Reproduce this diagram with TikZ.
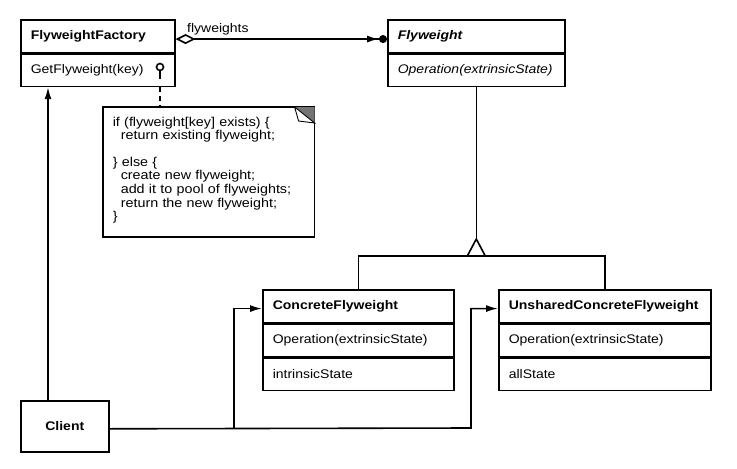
\documentclass[tikz,border=0pt]{standalone}
\usepackage{fontspec}
\setmainfont{Liberation Sans}[FakeStretch=1.12]
\usetikzlibrary{arrows.meta}
\usetikzlibrary{positioning}

\tikzset{
  box/.style={draw, line width=1.6pt, anchor=north west, inner xsep=10pt, inner ysep=0pt,
    minimum height=32.5pt, align=left, text width=#1, font=\fontsize{12.5}{15}\selectfont},
  head/.style={box=#1, font=\fontsize{12.5}{15}\selectfont\bfseries},
  assoc/.style={line width=1.6pt, -{Latex[length=12pt,width=7pt]}},
}

\begin{document}
\begin{tikzpicture}[x=1pt, y=-1pt, line width=1.6pt]
  \useasboundingbox (0,0) rectangle (737,469);

  % classes
  \node[head=134] (fact) at (20,19) {FlyweightFactory};
  \node[box=134, below=0pt of fact.south west, anchor=north west] (factop) {GetFlyweight(key)};

  \node[head=157] (fw) at (387,19) {\itshape Flyweight};
  \node[box=157, below=0pt of fw.south west, anchor=north west] (fwop) {\itshape Operation(extrinsicState)};

  \node[head=171] (cf) at (262,289) {ConcreteFlyweight};
  \node[box=171, below=0pt of cf.south west, anchor=north west] (cfop) {Operation(extrinsicState)};
  \node[box=171, below=0pt of cfop.south west, anchor=north west] (cfst) {intrinsicState};

  \node[head=192] (ucf) at (498,289) {UnsharedConcreteFlyweight};
  \node[box=192, below=0pt of ucf.south west, anchor=north west] (ucfop) {Operation(extrinsicState)};
  \node[box=192, below=0pt of ucfop.south west, anchor=north west] (ucfst) {allState};

  \node[draw, anchor=north west, minimum width=88pt, minimum height=51pt,
        font=\fontsize{12.5}{15}\selectfont\bfseries] (client) at (20,400) {Client};

  % note
  \node[anchor=north west, inner xsep=9pt, inner ysep=9pt,
        text width=192pt, align=left, font=\fontsize{12.8}{13.6}\selectfont] (note) at (103,107)
    {if (flyweight[key] exists) \{\\
     \hspace*{8pt}return existing flyweight;\\[13pt]
     \} else \{\\
     \hspace*{8pt}create new flyweight;\\
     \hspace*{8pt}add it to pool of flyweights;\\
     \hspace*{8pt}return the new flyweight;\\
     \}};
  \coordinate (notese) at ([yshift=-130pt]note.north east);
  \draw (note.north west) rectangle (notese);
  \fill[black!55] ([xshift=-20pt]note.north east) -- (note.north east) -- ([yshift=-16pt]note.north east) -- cycle;
  \draw[fill=white, line width=0.9pt] ([xshift=-20pt]note.north east) -- ([xshift=-16pt,yshift=-14pt]note.north east)
    -- ([yshift=-16pt]note.north east) -- cycle;

  \coordinate (lolli) at (160,79);
  \draw (160,67) circle (3.5);
  \draw (160,70.5) -- (lolli);
  \draw[dash pattern=on 5pt off 4pt] (lolli |- factop.south) -- (lolli |- note.north);

  % aggregation
  \draw[{Diamond[open,length=20pt,width=10pt]}-{Latex[length=12pt,width=7pt] Circle[length=8pt]}]
    ([yshift=-3pt]fact.east) -- node[above, pos=0.2, font=\fontsize{12.5}{15}\selectfont] {flyweights} ([yshift=-3pt]fw.west);

  % inheritance
  \coordinate (apex) at (fwop.south |- 0,239);
  \coordinate (gen) at (fwop.south |- 0,256);
  \draw (fwop.south) -- (apex);
  \draw (apex) -- ++(-9,17) -- ++(18,0) -- cycle;
  \draw (cf.north) |- (gen) -| (ucf.north);

  % client associations
  \coordinate (jl) at (234,428);
  \coordinate (jr) at (471,428);
  \draw[assoc] ([xshift=28pt]client.north west) -- ([xshift=28pt]factop.south west);
  \draw[assoc] ([yshift=-2.5pt]client.east) -- (jr) |- ([yshift=-2.5pt]ucf.west);
  \draw[assoc] (jl) |- ([yshift=-2.5pt]cf.west);
\end{tikzpicture}
\end{document}
